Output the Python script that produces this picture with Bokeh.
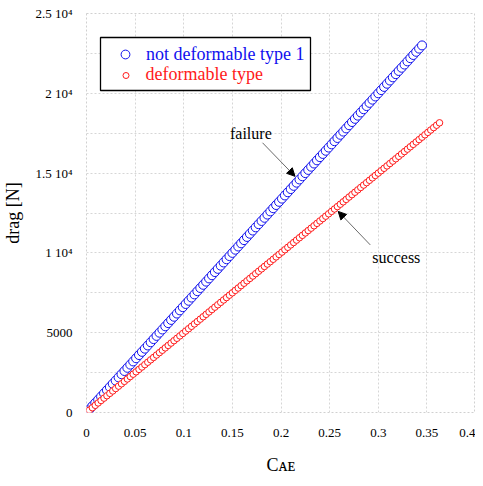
from bokeh.plotting import figure
from bokeh.models import (Range1d, FixedTicker, Legend, LegendItem, BoxAnnotation,
                          Label, Arrow, NormalHead)
from bokeh.embed import file_html
from bokeh.resources import INLINE

FONT = "Liberation Serif"

# ---------------- data ----------------
blue_x = [0.000, 0.003, 0.006, 0.009, 0.012, 0.015, 0.018, 0.021, 0.024, 0.027,
          0.030, 0.033, 0.036, 0.039, 0.042, 0.045, 0.048, 0.051, 0.054, 0.057,
          0.060, 0.063, 0.066, 0.069, 0.072, 0.075, 0.078, 0.081, 0.084, 0.087,
          0.090, 0.093, 0.096, 0.099, 0.102, 0.105, 0.108, 0.111, 0.114, 0.117,
          0.120, 0.123, 0.126, 0.129, 0.132, 0.135, 0.138, 0.141, 0.144, 0.147,
          0.150, 0.153, 0.156, 0.159, 0.162, 0.165, 0.168, 0.171, 0.174, 0.177,
          0.180, 0.183, 0.186, 0.189, 0.192, 0.195, 0.198, 0.201, 0.204, 0.207,
          0.210, 0.213, 0.216, 0.219, 0.222, 0.225, 0.228, 0.231, 0.234, 0.237,
          0.240, 0.243, 0.246, 0.249, 0.252, 0.255, 0.258, 0.261, 0.264, 0.267,
          0.270, 0.273, 0.276, 0.279, 0.282, 0.285, 0.288, 0.291, 0.294, 0.297,
          0.300, 0.303, 0.306, 0.309, 0.312, 0.315, 0.318, 0.321, 0.324, 0.327,
          0.330, 0.333, 0.336, 0.339, 0.342, 0.345]
blue_y = [0, 200, 400, 600, 800, 1000, 1200, 1400, 1600, 1800,
          2000, 2200, 2400, 2600, 2800, 3000, 3200, 3400, 3600, 3800,
          4000, 4200, 4400, 4600, 4800, 5000, 5200, 5400, 5600, 5800,
          6000, 6200, 6400, 6600, 6800, 7000, 7200, 7400, 7600, 7800,
          8000, 8200, 8400, 8600, 8800, 9000, 9200, 9400, 9600, 9800,
          10000, 10200, 10400, 10600, 10800, 11000, 11200, 11400, 11600, 11800,
          12000, 12200, 12400, 12600, 12800, 13000, 13200, 13400, 13600, 13800,
          14000, 14200, 14400, 14600, 14800, 15000, 15200, 15400, 15600, 15800,
          16000, 16200, 16400, 16600, 16800, 17000, 17200, 17400, 17600, 17800,
          18000, 18200, 18400, 18600, 18800, 19000, 19200, 19400, 19600, 19800,
          20000, 20200, 20400, 20600, 20800, 21000, 21200, 21400, 21600, 21800,
          22000, 22200, 22400, 22600, 22800, 23000]

red_x = [0.000, 0.003, 0.006, 0.009, 0.012, 0.015, 0.018, 0.021, 0.024, 0.027,
         0.030, 0.033, 0.036, 0.039, 0.042, 0.045, 0.048, 0.051, 0.054, 0.057,
         0.060, 0.063, 0.066, 0.069, 0.072, 0.075, 0.078, 0.081, 0.084, 0.087,
         0.090, 0.093, 0.096, 0.099, 0.102, 0.105, 0.108, 0.111, 0.114, 0.117,
         0.120, 0.123, 0.126, 0.129, 0.132, 0.135, 0.138, 0.141, 0.144, 0.147,
         0.150, 0.153, 0.156, 0.159, 0.162, 0.165, 0.168, 0.171, 0.174, 0.177,
         0.180, 0.183, 0.186, 0.189, 0.192, 0.195, 0.198, 0.201, 0.204, 0.207,
         0.210, 0.213, 0.216, 0.219, 0.222, 0.225, 0.228, 0.231, 0.234, 0.237,
         0.240, 0.243, 0.246, 0.249, 0.252, 0.255, 0.258, 0.261, 0.264, 0.267,
         0.270, 0.273, 0.276, 0.279, 0.282, 0.285, 0.288, 0.291, 0.294, 0.297,
         0.300, 0.303, 0.306, 0.309, 0.312, 0.315, 0.318, 0.321, 0.324, 0.327,
         0.330, 0.333, 0.336, 0.339, 0.342, 0.345, 0.348, 0.351, 0.354, 0.357,
         0.360, 0.363]
red_y = [0, 150, 300, 450, 600, 750, 900, 1050, 1200, 1350,
         1500, 1650, 1800, 1950, 2100, 2250, 2400, 2550, 2700, 2850,
         3000, 3150, 3300, 3450, 3600, 3750, 3900, 4050, 4200, 4350,
         4500, 4650, 4800, 4950, 5100, 5250, 5400, 5550, 5700, 5850,
         6000, 6150, 6300, 6450, 6600, 6750, 6900, 7050, 7200, 7350,
         7500, 7650, 7800, 7950, 8100, 8250, 8400, 8550, 8700, 8850,
         9000, 9150, 9300, 9450, 9600, 9750, 9900, 10050, 10200, 10350,
         10500, 10650, 10800, 10950, 11100, 11250, 11400, 11550, 11700, 11850,
         12000, 12150, 12300, 12450, 12600, 12750, 12900, 13050, 13200, 13350,
         13500, 13650, 13800, 13950, 14100, 14250, 14400, 14550, 14700, 14850,
         15000, 15150, 15300, 15450, 15600, 15750, 15900, 16050, 16200, 16350,
         16500, 16650, 16800, 16950, 17100, 17250, 17400, 17550, 17700, 17850,
         18000, 18150]

series_names = ["not deformable type 1", "deformable type"]

x_ticks = [0, 0.05, 0.1, 0.15, 0.2, 0.25, 0.3, 0.35, 0.4]
x_tick_labels = ["0", "0.05", "0.1", "0.15", "0.2", "0.25", "0.3", "0.35", "0.4"]
y_ticks = [0, 5000, 10000, 15000, 20000, 25000]
y_tick_labels = ["0", "5000", "1 10\u2074", "1.5 10\u2074", "2 10\u2074", "2.5 10\u2074"]
y_minor = [2500, 7500, 12500, 17500, 22500]
x_title = "C\u1d00\u1d07"
y_title = "drag [N]"

# ---------------- figure ----------------
p = figure(frame_width=389, frame_height=399, output_backend="svg",
           toolbar_location=None,
           x_range=Range1d(0, 0.4), y_range=Range1d(0, 25000),
           min_border_left=76, min_border_right=0, min_border_top=13,
           min_border_bottom=0)
p.background_fill_color = "white"
p.border_fill_color = "white"
p.outline_line_color = "#d0d0d0"
p.outline_line_dash = "2 2"

# axes
for ax in (p.xaxis[0], p.yaxis[0]):
    ax.axis_line_color = None
    ax.major_tick_line_color = None
    ax.minor_tick_line_color = None
    ax.major_label_text_font = FONT
    ax.major_label_text_font_size = "13px"
    ax.major_label_text_color = "black"
    ax.axis_label_text_font = FONT
    ax.axis_label_text_font_size = "18px"
    ax.axis_label_text_font_style = "normal"
    ax.axis_label_text_color = "black"

p.xaxis[0].ticker = FixedTicker(ticks=x_ticks)
p.xaxis[0].major_label_overrides = dict(zip(x_ticks, x_tick_labels))
p.xaxis[0].major_label_standoff = 10
p.xaxis[0].axis_label = x_title
p.xaxis[0].axis_label_standoff = 15

p.yaxis[0].ticker = FixedTicker(ticks=y_ticks, minor_ticks=y_minor)
p.yaxis[0].major_label_overrides = dict(zip(y_ticks, y_tick_labels))
p.yaxis[0].major_label_standoff = 8
p.yaxis[0].axis_label = y_title
p.yaxis[0].axis_label_standoff = 9

# grid
p.xgrid.ticker = FixedTicker(ticks=x_ticks)
p.ygrid.ticker = FixedTicker(ticks=y_ticks, minor_ticks=y_minor)
for g in (p.xgrid[0], p.ygrid[0]):
    g.grid_line_color = "#d6d6d6"
    g.grid_line_dash = "2 2"
    g.grid_line_width = 1
p.ygrid[0].minor_grid_line_color = "#d6d6d6"
p.ygrid[0].minor_grid_line_dash = "2 2"

# data
r_blue = p.scatter(blue_x, blue_y, marker="circle", size=9, line_color="#1010ee",
                   fill_color="white", line_width=1)
r_red = p.scatter(red_x, red_y, marker="circle", size=6.5, line_color="#ff1a1a",
                  fill_color="white", line_width=1)

# legend (box + two single-item legends for coloured text)
box = BoxAnnotation(left=14, right=224, top=375, bottom=322,
                    left_units="screen", right_units="screen",
                    top_units="screen", bottom_units="screen",
                    fill_color="white", fill_alpha=1.0,
                    line_color="black", line_width=1.3, line_alpha=1.0)
p.add_layout(box)

leg_blue = Legend(items=[LegendItem(label=series_names[0], renderers=[r_blue])],
                  location=(28, 347), orientation="vertical",
                  glyph_width=22, glyph_height=22, label_height=22,
                  label_standoff=10, padding=0, margin=0, spacing=0,
                  border_line_color=None, background_fill_alpha=0,
                  label_text_font=FONT, label_text_font_size="18px",
                  label_text_color="#1010ee")
leg_red = Legend(items=[LegendItem(label=series_names[1], renderers=[r_red])],
                 location=(31.5, 327), orientation="vertical",
                 glyph_width=15, glyph_height=20, label_height=20,
                 label_standoff=13, padding=0, margin=0, spacing=0,
                 border_line_color=None, background_fill_alpha=0,
                 label_text_font=FONT, label_text_font_size="18px",
                 label_text_color="#ff1a1a")
p.add_layout(leg_blue, "center")
p.add_layout(leg_red, "center")

# annotations
p.add_layout(Label(x=0.169, y=17500, text="failure", text_font=FONT,
                   text_font_size="16px", text_align="center",
                   text_baseline="middle", text_color="black"))
p.add_layout(Arrow(x_start=0.181, y_start=16900, x_end=0.2144, y_end=14800,
                   line_color="#444444", line_width=0.8,
                   end=NormalHead(size=8, fill_color="black", line_color="black")))
p.add_layout(Label(x=0.3186, y=9690, text="success", text_font=FONT,
                   text_font_size="16px", text_align="center",
                   text_baseline="middle", text_color="black"))
p.add_layout(Arrow(x_start=0.2918, y_start=10500, x_end=0.2588, y_end=12600,
                   line_color="#444444", line_width=0.8,
                   end=NormalHead(size=8, fill_color="black", line_color="black")))

open("out.html", "w").write(file_html(p, INLINE))
